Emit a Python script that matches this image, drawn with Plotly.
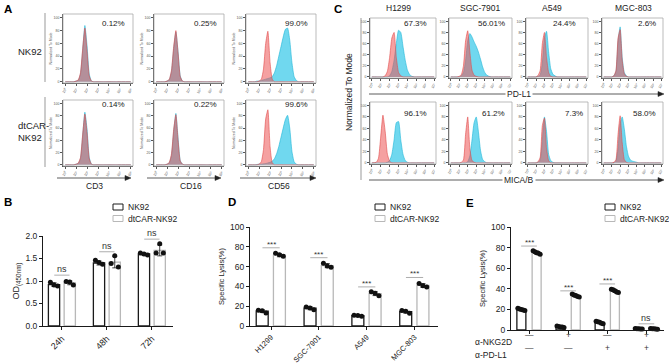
import numpy as np
import plotly.graph_objects as go

W, H = 669, 364
FONT = "Liberation Sans, Arial, sans-serif"

# ================= DATA =================
# ---- Panel A: flow cytometry histograms (x: log decade, y: % of mode) ----
a_hist_x = [0, 0.6, 0.8, 1.0, 1.2, 1.4, 1.6, 1.8, 2.0, 2.2, 2.4, 2.6, 2.8, 3.0,
            3.2, 3.4, 3.6, 3.8, 4.0, 4.2, 4.4, 4.6, 4.8, 6.0]
a_markers = ["CD3", "CD16", "CD56"]
a_rows = ["NK92", "dtCAR-<br>NK92"]
a_pct_nk92 = ["0.12%", "0.25%", "99.0%"]
a_pct_dtcar = ["0.14%", "0.22%", "99.6%"]
a_nk92_cd3_iso = [0, 0, 0, 1, 3, 14, 52, 84, 48, 9, 1, 0, 0, 0, 0, 0, 0, 0, 0, 0, 0, 0, 0, 0]
a_nk92_cd3_stain = [0, 0, 0, 1, 2, 12, 50, 88, 56, 12, 1, 0, 0, 0, 0, 0, 0, 0, 0, 0, 0, 0, 0, 0]
a_nk92_cd16_iso = [0, 0, 0, 1, 4, 18, 55, 80, 45, 8, 1, 0, 0, 0, 0, 0, 0, 0, 0, 0, 0, 0, 0, 0]
a_nk92_cd16_stain = [0, 0, 0, 1, 3, 16, 52, 78, 47, 9, 1, 0, 0, 0, 0, 0, 0, 0, 0, 0, 0, 0, 0, 0]
a_nk92_cd56_iso = [0, 0, 0, 1, 4, 20, 60, 79, 30, 4, 0, 0, 0, 0, 0, 0, 0, 0, 0, 0, 0, 0, 0, 0]
a_nk92_cd56_stain = [0, 0, 1, 1, 2, 3, 4, 5, 6, 8, 14, 25, 40, 55, 70, 82, 84, 65, 30, 8, 2, 0, 0, 0]
a_dtcar_cd3_iso = [0, 0, 0, 1, 3, 12, 50, 83, 52, 10, 1, 0, 0, 0, 0, 0, 0, 0, 0, 0, 0, 0, 0, 0]
a_dtcar_cd3_stain = [0, 0, 0, 1, 2, 10, 48, 86, 58, 12, 1, 0, 0, 0, 0, 0, 0, 0, 0, 0, 0, 0, 0, 0]
a_dtcar_cd16_iso = [0, 0, 0, 1, 4, 18, 58, 82, 40, 6, 1, 0, 0, 0, 0, 0, 0, 0, 0, 0, 0, 0, 0, 0]
a_dtcar_cd16_stain = [0, 0, 0, 1, 3, 15, 55, 84, 44, 7, 1, 0, 0, 0, 0, 0, 0, 0, 0, 0, 0, 0, 0, 0]
a_dtcar_cd56_iso = [0, 0, 0, 1, 5, 25, 75, 90, 30, 3, 0, 0, 0, 0, 0, 0, 0, 0, 0, 0, 0, 0, 0, 0]
a_dtcar_cd56_stain = [0, 0, 0.5, 1, 1, 1.5, 2, 3, 4, 6, 10, 18, 30, 45, 60, 74, 81, 60, 22, 5, 1, 0, 0, 0]

# ---- Panel C: PD-L1 / MICA/B histograms ----
c_hist_x = [0, 0.5, 0.75, 1.0, 1.25, 1.5, 1.75, 2.0, 2.25, 2.5, 2.75, 3.0, 3.25,
            3.5, 3.75, 4.0, 4.25, 4.5, 4.75, 5.0, 7.0]
c_cells = ["H1299", "SGC-7901", "A549", "MGC-803"]
c_markers = ["PD-L1", "MICA/B"]
c_pct_pdl1 = ["67.3%", "56.01%", "24.4%", "2.6%"]
c_pct_mica = ["96.1%", "61.2%", "7.3%", "58.0%"]
c_pdl1_h1299_iso = [0, 0, 0, 0, 0, 2, 10, 35, 70, 80, 35, 8, 2, 0, 0, 0, 0, 0, 0, 0, 0]
c_pdl1_h1299_stain = [0, 0, 0, 0, 0, 0, 0, 2, 10, 30, 60, 84, 80, 55, 30, 12, 4, 1, 0, 0, 0]
c_pdl1_sgc_iso = [0, 0, 0, 1, 4, 20, 65, 83, 45, 12, 3, 1, 0, 0, 0, 0, 0, 0, 0, 0, 0]
c_pdl1_sgc_stain = [0, 0, 0, 0, 2, 8, 30, 65, 78, 72, 63, 55, 45, 32, 18, 8, 3, 1, 0, 0, 0]
c_pdl1_a549_iso = [0, 0, 0, 0, 3, 12, 60, 80, 35, 8, 1, 0, 0, 0, 0, 0, 0, 0, 0, 0, 0]
c_pdl1_a549_stain = [0, 0, 0, 0, 1, 4, 25, 70, 82, 45, 15, 5, 2, 0, 0, 0, 0, 0, 0, 0, 0]
c_pdl1_mgc_iso = [0, 0, 0, 0, 2, 12, 70, 85, 30, 6, 1, 0, 0, 0, 0, 0, 0, 0, 0, 0, 0]
c_pdl1_mgc_stain = [0, 0, 0, 0, 2, 10, 65, 90, 35, 8, 2, 0, 0, 0, 0, 0, 0, 0, 0, 0, 0]
c_mica_h1299_iso = [0, 1, 8, 45, 83, 55, 15, 3, 0, 0, 0, 0, 0, 0, 0, 0, 0, 0, 0, 0, 0]
c_mica_h1299_stain = [0, 0, 0, 0, 0, 0, 1, 4, 15, 40, 70, 72, 40, 15, 4, 1, 0, 0, 0, 0, 0]
c_mica_sgc_iso = [0, 0, 0, 0, 1, 5, 50, 80, 25, 4, 1, 0, 0, 0, 0, 0, 0, 0, 0, 0, 0]
c_mica_sgc_stain = [0, 0, 0, 0, 0, 0, 0, 2, 12, 40, 70, 80, 55, 22, 6, 2, 0, 0, 0, 0, 0]
c_mica_a549_iso = [0, 0, 0, 0, 2, 10, 65, 78, 25, 4, 0, 0, 0, 0, 0, 0, 0, 0, 0, 0, 0]
c_mica_a549_stain = [0, 0, 0, 0, 1, 5, 40, 80, 55, 15, 4, 1, 0, 0, 0, 0, 0, 0, 0, 0, 0]
c_mica_mgc_iso = [0, 0, 0, 0, 1, 6, 50, 82, 35, 6, 1, 0, 0, 0, 0, 0, 0, 0, 0, 0, 0]
c_mica_mgc_stain = [0, 0, 0, 0, 0, 3, 25, 68, 80, 60, 30, 12, 5, 3, 2, 1, 0, 0, 0, 0, 0]

hist_tick_text = ["10⁰", "10¹", "10²", "10³", "10⁴", "10⁵", "10⁶", "10⁷"]

# ---- Panel B: proliferation OD450 ----
b_times = ["24h", "48h", "72h"]
b_nk92_mean = [0.92, 1.40, 1.60]
b_dtcar_mean = [0.96, 1.42, 1.68]
b_nk92_dots = [[0.97, 0.91, 0.89], [1.46, 1.41, 1.37], [1.62, 1.60, 1.58]]
b_dtcar_dots = [[0.99, 0.98, 0.91], [1.39, 1.56, 1.31], [1.62, 1.83, 1.62]]
b_sig_y = [1.13, 1.65, 1.93]
b_sig_text = ["ns", "ns", "ns"]

# ---- Panel D: specific lysis per cell line ----
d_cells = ["H1299", "SGC-7901", "A549", "MGC-803"]
d_nk92_mean = [15.0, 18.0, 10.4, 14.5]
d_dtcar_mean = [71.5, 61.0, 32.8, 41.0]
d_nk92_dots = [[15.9, 15.3, 13.2], [19.3, 18.3, 16.3], [10.8, 10.5, 9.8], [15.6, 14.9, 12.9]]
d_dtcar_dots = [[73.6, 71.9, 70.5], [63.4, 60.7, 59.3], [34.6, 33.2, 30.5], [43.0, 40.7, 39.3]]
d_sig_y = [79, 69, 39.5, 49]
d_sig_text = ["***", "***", "***", "***"]

# ---- Panel E: blocking experiment ----
e_nkg2d = ["—", "+", "—", "+"]
e_pdl1 = ["—", "—", "+", "+"]
e_nk92_mean = [19.8, 3.2, 7.3, 1.2]
e_dtcar_mean = [75.2, 33.4, 38.0, 1.1]
e_nk92_dots = [[21, 20.5, 20, 19.5, 19], [4, 3.5, 3, 2.8, 2.5], [8.5, 8, 7.5, 6.5, 6],
               [1.5, 1.3, 1.1, 1.0, 0.9]]
e_dtcar_dots = [[77, 76, 75, 74.5, 73.5], [35, 34, 33.5, 32.5, 32], [39.5, 39, 38, 37, 36.5],
                [1.4, 1.2, 1.1, 1.0, 0.8]]
e_sig_y = [81.5, 38, 44.7, 6]
e_sig_text = ["***", "***", "***", "ns"]

legend_names = ["NK92", "dtCAR-NK92"]

# ================= FIGURE =================
fig = go.Figure()
layout = dict(width=W, height=H, margin=dict(l=0, r=0, t=0, b=0), autosize=False,
              template="none", paper_bgcolor="white", plot_bgcolor="white",
              showlegend=False, barmode="overlay",
              font=dict(family=FONT, color="#222", size=9))
annotations, shapes = [], []
counter = [0]

DARK = "#1a1a1a"
LIGHT = "#b8b8b8"


def add_axes(x0, x1, y0, y1, xcfg, ycfg):
    counter[0] += 1
    k = counter[0]
    s = "" if k == 1 else str(k)
    layout["xaxis" + s] = dict(domain=[x0 / W, x1 / W], anchor="y" + s, automargin=False,
                               showgrid=False, zeroline=False, fixedrange=True, **xcfg)
    layout["yaxis" + s] = dict(domain=[1 - y1 / H, 1 - y0 / H], anchor="x" + s, automargin=False,
                               showgrid=False, zeroline=False, fixedrange=True, **ycfg)
    return "x" + s, "y" + s


def text(x, y, t, size=8, xanchor="center", yanchor="middle", **kw):
    annotations.append(dict(x=x / W, y=1 - y / H, xref="paper", yref="paper", text=t,
                            showarrow=False, xanchor=xanchor, yanchor=yanchor,
                            font=dict(size=size, color=kw.pop("color", "#222"), family=FONT), **kw))


def arrow(x0, x1, y):
    shapes.append(dict(type="line", xref="paper", yref="paper", x0=x0 / W, x1=(x1 - 4) / W,
                       y0=1 - y / H, y1=1 - y / H, line=dict(color="#333", width=0.8)))
    path = "M %f,%f L %f,%f L %f,%f Z" % (x1 / W, 1 - y / H, (x1 - 6) / W, 1 - (y - 2.5) / H,
                                          (x1 - 6) / W, 1 - (y + 2.5) / H)
    shapes.append(dict(type="path", xref="paper", yref="paper", path=path, fillcolor="#222",
                       line=dict(color="#222", width=0.5)))


def vline(x, y0, y1, color="#999"):
    shapes.append(dict(type="line", xref="paper", yref="paper", x0=x / W, x1=x / W,
                       y0=1 - y0 / H, y1=1 - y1 / H, line=dict(color=color, width=1)))


def hist_panel(x0, x1, y0, y1, hx, ndec, iso, stain, pct, pct_x, pct_y, ytitle):
    tick = dict(ticks="outside", ticklen=2, tickwidth=0.5, tickcolor="#555", showline=True,
                linecolor="#555", linewidth=0.8, tickfont=dict(size=3.5, color="#555", family=FONT))
    xcfg = dict(range=[-0.2, ndec + 0.2], tickvals=list(range(ndec + 1)),
                ticktext=hist_tick_text[:ndec + 1], tickangle=-60, **tick)
    ycfg = dict(range=[-2, 106], tickvals=[0, 20, 40, 60, 80, 100], **tick)
    if ytitle:
        ycfg["title"] = dict(text="Normalized To Mode", font=dict(size=3.5, color="#555"), standoff=1)
    xa, ya = add_axes(x0, x1, y0, y1, xcfg, ycfg)
    shapes.append(dict(type="rect", xref=xa + " domain", yref=ya + " domain", x0=0, x1=1, y0=0, y1=1,
                       line=dict(color="#aaa", width=0.8), layer="above"))
    fig.add_trace(go.Scatter(x=hx, y=stain, xaxis=xa, yaxis=ya, mode="lines",
                             line=dict(color="#1fb6d6", width=0.6, shape="spline", smoothing=0.5),
                             fill="tozeroy", fillcolor="rgba(72,205,234,0.78)", hoverinfo="skip"))
    fig.add_trace(go.Scatter(x=hx, y=iso, xaxis=xa, yaxis=ya, mode="lines",
                             line=dict(color="#e04a4a", width=0.6, shape="spline", smoothing=0.5),
                             fill="tozeroy", fillcolor="rgba(236,84,84,0.55)", hoverinfo="skip"))
    text(pct_x, pct_y, pct, size=8, xanchor="right")


# ---------- Panel A ----------
a_iso = [[a_nk92_cd3_iso, a_nk92_cd16_iso, a_nk92_cd56_iso],
         [a_dtcar_cd3_iso, a_dtcar_cd16_iso, a_dtcar_cd56_iso]]
a_stain = [[a_nk92_cd3_stain, a_nk92_cd16_stain, a_nk92_cd56_stain],
           [a_dtcar_cd3_stain, a_dtcar_cd16_stain, a_dtcar_cd56_stain]]
a_pcts = [a_pct_nk92, a_pct_dtcar]
a_cols = [(63, 133), (154, 224), (246, 316)]
a_rows_px = [(14, 83), (100, 166)]
a_pct_right = [127, 219, 310]
a_pct_y = [23, 105]
for r in range(2):
    for c in range(3):
        hist_panel(a_cols[c][0], a_cols[c][1], a_rows_px[r][0], a_rows_px[r][1], a_hist_x, 6,
                   a_iso[r][c], a_stain[r][c], a_pcts[r][c], a_pct_right[c], a_pct_y[r], True)
vline(45, 13, 82)
vline(45, 97, 167)
text(16, 52, a_rows[0], size=9.5, xanchor="left")
text(16, 131, a_rows[1], size=9.5, xanchor="left", align="left")
a_arrows = [(57, 131), (147, 221), (240, 316)]
a_label_x = [94, 191, 279]
for c in range(3):
    arrow(a_arrows[c][0], a_arrows[c][1], 178)
    text(a_label_x[c], 186, a_markers[c], size=8.5)

# ---------- Panel C ----------
c_iso = [[c_pdl1_h1299_iso, c_pdl1_sgc_iso, c_pdl1_a549_iso, c_pdl1_mgc_iso],
         [c_mica_h1299_iso, c_mica_sgc_iso, c_mica_a549_iso, c_mica_mgc_iso]]
c_stain = [[c_pdl1_h1299_stain, c_pdl1_sgc_stain, c_pdl1_a549_stain, c_pdl1_mgc_stain],
           [c_mica_h1299_stain, c_mica_sgc_stain, c_mica_a549_stain, c_mica_mgc_stain]]
c_pcts = [c_pct_pdl1, c_pct_mica]
c_cols = [(370, 436), (449, 512), (526, 588), (602, 663)]
c_rows_px = [(18, 78), (102, 164)]
c_pct_right = [[429, 507, 578, 658], [429, 507, 585, 658]]
c_pct_y = [23, 113]
c_title_x = [398, 480, 552, 633]
for r in range(2):
    for c in range(4):
        hist_panel(c_cols[c][0], c_cols[c][1], c_rows_px[r][0], c_rows_px[r][1], c_hist_x, 7,
                   c_iso[r][c], c_stain[r][c], c_pcts[r][c], c_pct_right[r][c], c_pct_y[r], False)
for c in range(4):
    text(c_title_x[c], 8, c_cells[c], size=8.5)
vline(361, 18, 180)
text(349, 92, "Normalized To Mode", size=8.5, textangle=-90)
for r, yy in enumerate([94, 180]):
    arrow(369, 664, yy)
    text(519, yy, c_markers[r], size=8.5, bgcolor="white", borderpad=1)


# ---------- Bar panels ----------
def bar_axes(x0, x1, y0, y1, xrange, nx, ticktext, xtick_size, yrange, yticks, ytext, ytitle,
             ytitle_size):
    base = dict(ticks="outside", ticklen=3, tickwidth=1, tickcolor=DARK, showline=True,
                linecolor=DARK, linewidth=1)
    xcfg = dict(range=xrange, tickvals=list(range(nx)),
                tickfont=dict(size=xtick_size, color="#222", family=FONT), **base)
    if ticktext is None:
        xcfg["showticklabels"] = False
    else:
        xcfg["ticktext"] = ticktext
        xcfg["tickangle"] = -45
    ycfg = dict(range=yrange, tickvals=yticks, ticktext=ytext,
                tickfont=dict(size=8.5, color="#222", family=FONT),
                title=dict(text=ytitle, font=dict(size=ytitle_size, family=FONT), standoff=4), **base)
    return add_axes(x0, x1, y0, y1, xcfg, ycfg)


def bar_panel(xa, ya, means_nk, means_dt, dots_nk, dots_dt, off_nk, off_dt, bw, spread,
              sig_y, sig_text, half):
    idx = list(range(len(means_nk)))
    for means, dots, off, col in [(means_nk, dots_nk, off_nk, DARK), (means_dt, dots_dt, off_dt, LIGHT)]:
        sd = [float(np.std(d, ddof=1)) for d in dots]
        fig.add_trace(go.Bar(x=idx, y=means, offset=off, width=bw, xaxis=xa, yaxis=ya,
                             marker=dict(color="white", line=dict(color=col, width=1.3)),
                             error_y=dict(type="data", array=sd, color=DARK, thickness=0.8, width=2.5),
                             hoverinfo="skip"))
        xs, ys = [], []
        for i, d in enumerate(dots):
            for k, v in enumerate(d):
                xs.append(i + off + bw / 2 + spread[k])
                ys.append(v)
        fig.add_trace(go.Scatter(x=xs, y=ys, mode="markers", xaxis=xa, yaxis=ya, cliponaxis=False,
                                 marker=dict(color="#111", size=5), hoverinfo="skip"))
    for i, (yv, t) in enumerate(zip(sig_y, sig_text)):
        shapes.append(dict(type="line", xref=xa, yref=ya, x0=i - half, x1=i + half, y0=yv, y1=yv,
                           line=dict(color="#999", width=0.8)))
        star = t == "***"
        annotations.append(dict(xref=xa, yref=ya, x=i, y=yv, text=t, showarrow=False, yanchor="bottom",
                                yshift=-3 if star else -1,
                                font=dict(size=8 if star else 9, color="#333", family=FONT)))


def legend(x, y):
    for k, (name, col) in enumerate(zip(legend_names, [DARK, LIGHT])):
        yy = y + k * 11.5
        shapes.append(dict(type="rect", xref="paper", yref="paper", x0=x / W, x1=(x + 10) / W,
                           y0=1 - (yy + 3) / H, y1=1 - (yy - 3) / H, line=dict(color=col, width=1),
                           fillcolor="white"))
        text(x + 13, yy, name, size=8.5, xanchor="left")


# Panel B
xb, yb = bar_axes(43, 173, 236, 326, [-0.42, 2.47], 3, b_times, 9, [0, 2.0],
                  [0, 0.5, 1.0, 1.5, 2.0], ["0.0", "0.5", "1.0", "1.5", "2.0"],
                  "OD<sub>(450nm)</sub>", 9)
bar_panel(xb, yb, b_nk92_mean, b_dtcar_mean, b_nk92_dots, b_dtcar_dots, -0.3, 0.05, 0.25,
          [-0.08, 0, 0.08], b_sig_y, b_sig_text, 0.17)
legend(113, 207)

# Panel D
xd, yd = bar_axes(250, 438, 227, 326, [-0.44, 3.49], 4, d_cells, 7.5, [0, 100],
                  [0, 20, 40, 60, 80, 100], ["0", "20", "40", "60", "80", "100"],
                  "Specific Lysis(%)", 7.5)
bar_panel(xd, yd, d_nk92_mean, d_dtcar_mean, d_nk92_dots, d_dtcar_dots, -0.31, 0.05, 0.25,
          [-0.08, 0, 0.08], d_sig_y, d_sig_text, 0.18)
legend(375, 207)

# Panel E
xe, ye = bar_axes(511, 664, 227, 330, [-0.46, 3.45], 4, None, 8.5, [0, 100],
                  [0, 20, 40, 60, 80, 100], ["0", "20", "40", "60", "80", "100"],
                  "Specific Lysis(%)", 7.5)
bar_panel(xe, ye, e_nk92_mean, e_dtcar_mean, e_nk92_dots, e_dtcar_dots, -0.31, 0.08, 0.23,
          [-0.09, -0.045, 0, 0.045, 0.09], e_sig_y, e_sig_text, 0.2)
legend(605, 207)
for row_label, marks, yy in [("α-NKG2D", e_nkg2d, 342), ("α-PD-L1", e_pdl1, 355)]:
    text(473, yy, row_label, size=8.5, xanchor="left")
    for i, m in enumerate(marks):
        annotations.append(dict(xref=xe, yref="paper", x=i, y=1 - yy / H, text=m, showarrow=False,
                                font=dict(size=8.5, color="#333", family=FONT)))

# ---------- Panel letters ----------
for letter, lx, ly in [("A", 2, 1), ("C", 332, 1), ("B", 2, 194), ("D", 226, 194), ("E", 464, 195)]:
    text(lx, ly, "<b>%s</b>" % letter, size=11.5, xanchor="left", yanchor="top", color="#000")

layout["annotations"] = annotations
layout["shapes"] = shapes
fig.update_layout(**layout)
fig.write_html("out.html", config={"displayModeBar": False},
               post_script="document.body.style.margin='0px';document.body.style.overflow='hidden';")
